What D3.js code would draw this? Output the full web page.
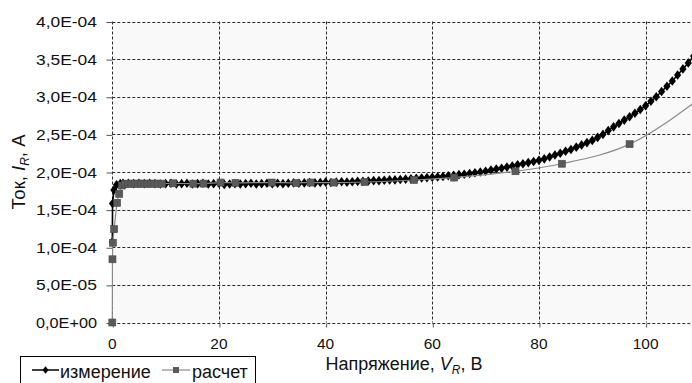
<!DOCTYPE html>
<html><head><meta charset="utf-8">
<script src="https://cdn.jsdelivr.net/npm/d3@7"></script>
<style>
body{margin:0;background:#fff;}
svg{display:block;font-family:"Liberation Sans",Arial,sans-serif;}
</style>
</head><body>
<svg id="c" width="692" height="383"></svg>
<script>
// ---- data (current in units of 1e-4 A) ----
const xTicks = [0, 20, 40, 60, 80, 100];
const yTicks = [0, 0.5, 1, 1.5, 2, 2.5, 3, 3.5, 4];
const yTickLabels = ["0,0E+00","5,0E-05","1,0E-04","1,5E-04","2,0E-04","2,5E-04","3,0E-04","3,5E-04","4,0E-04"];
const seriesNames = ["измерение", "расчет"];

const measV = [0, 0.05, 0.3, 0.8, 1.5,
  2,3,4,5,6,7,8,9,10,11,12,13,14,15,16,17,18,19,20,
  21,22,23,24,25,26,27,28,29,30,31,32,33,34,35,36,37,38,39,40,
  41,42,43,44,45,46,47,48,49,50,51,52,53,54,55,56,57,58,59,60,
  61,62,63,64,65,66,67,68,69,70,71,72,73,74,75,76,77,78,79,80,
  81,82,83,84,85,86,87,88,89,90,91,92,93,94,95,96,97,98,99,100,
  101,102,103,104,105,106,107,108,109];
const measI = [1.07, 1.58, 1.76, 1.83, 1.845,
  1.85,1.85,1.845,1.85,1.845,1.85,1.845,1.84,1.845,1.85,1.84,1.845,1.85,1.84,1.845,1.85,1.84,1.845,1.85,
  1.835,1.84,1.845,1.84,1.845,1.85,1.84,1.845,1.85,1.845,1.85,1.845,1.85,1.855,1.85,1.855,1.86,1.855,1.86,1.865,
  1.86,1.865,1.87,1.865,1.87,1.875,1.875,1.88,1.885,1.885,1.89,1.895,1.895,1.9,1.905,1.91,1.915,1.92,1.925,1.93,
  1.935,1.94,1.95,1.955,1.965,1.97,1.98,1.99,2.0,2.01,2.025,2.04,2.05,2.065,2.08,2.095,2.11,2.125,2.14,2.155,
  2.175,2.2,2.225,2.25,2.275,2.3,2.33,2.36,2.39,2.42,2.46,2.5,2.55,2.6,2.645,2.69,2.735,2.78,2.83,2.88,
  2.94,3.0,3.07,3.14,3.21,3.29,3.37,3.45,3.54];

const calcV = [0, 0.03, 0.1, 0.35, 0.9, 1.3, 1.8, 2.4, 3.0, 3.6, 4.2, 4.8, 5.4, 6.0, 6.6, 7.2, 7.9, 8.6, 9.3,
  11.4, 15.2, 17.1, 20.3, 23.1, 29.9, 34.5, 37.2, 41.5, 47.3, 56.6, 64.1, 75.6, 84.3, 97.0, 110];
const calcI = [0, 0.84, 1.06, 1.24, 1.59, 1.71, 1.82, 1.84, 1.845, 1.845, 1.845, 1.845, 1.845, 1.845, 1.845, 1.845, 1.845, 1.845, 1.845,
  1.85, 1.845, 1.846, 1.86, 1.855, 1.86, 1.855, 1.86, 1.86, 1.867, 1.894, 1.926, 2.01, 2.11, 2.37, 2.97];

// ---- layout ----
const svg = d3.select("#c");
const L = 112.3, R = 692, T = 21.5, B = 322.5;
const x = d3.scaleLinear().domain([0, 108.7]).range([L, R]);
const y = d3.scaleLinear().domain([0, 4]).range([B, T]);

svg.append("defs").append("clipPath").attr("id","clip")
  .append("rect").attr("x", L-6).attr("y", 0).attr("width", R-L+12).attr("height", B+6);

svg.append("rect").attr("x", L).attr("y", T).attr("width", R-L).attr("height", B-T).attr("fill", "#f9f9f9");

// grid
const grid = svg.append("g").attr("stroke", "#2a2a2a").attr("stroke-width", 1).attr("stroke-dasharray", "3,2");
grid.selectAll("line.h").data(yTicks).enter().append("line")
  .attr("x1", L).attr("x2", R).attr("y1", d => Math.round(y(d))+0.5).attr("y2", d => Math.round(y(d))+0.5);
grid.selectAll("line.v").data(xTicks).enter().append("line")
  .attr("y1", T).attr("y2", B).attr("x1", d => Math.round(x(d))+0.5).attr("x2", d => Math.round(x(d))+0.5);

// axes: tick marks via d3.axis, labels as explicit text
const yAxis = d3.axisLeft(y).tickValues(yTicks).tickSize(6).tickFormat("");
const gy = svg.append("g").attr("transform", `translate(${Math.round(L)+0.5},0.5)`).call(yAxis);
gy.select(".domain").remove();
gy.selectAll("line").attr("stroke", "#555");
svg.append("g").selectAll("text").data(yTicks).enter().append("text")
  .attr("x", 97).attr("y", d => y(d) + 5.5).attr("text-anchor", "end")
  .style("font-size", "15.5px").attr("fill", "#111")
  .attr("textLength", 61).attr("lengthAdjust", "spacingAndGlyphs")
  .text((d,i) => yTickLabels[i]);

const xAxis = d3.axisBottom(x).tickValues(xTicks).tickSize(4).tickFormat("");
const gx = svg.append("g").attr("transform", `translate(0.5,${Math.round(B)+0.5})`).call(xAxis);
gx.select(".domain").remove();
gx.selectAll("line").attr("stroke", "#555");
svg.append("g").selectAll("text").data(xTicks).enter().append("text")
  .attr("x", d => x(d)).attr("y", 348.5).attr("text-anchor", "middle")
  .style("font-size", "15.5px").attr("fill", "#111")
  .attr("textLength", d => String(d).length * 8.6).attr("lengthAdjust", "spacingAndGlyphs")
  .text(d => d);

// series
const plot = svg.append("g").attr("clip-path", "url(#clip)");
const meas = measV.map((v,i) => [v, measI[i]]);
const calc = calcV.map((v,i) => [v, calcI[i]]);

plot.append("path").datum(meas)
  .attr("d", d3.line().x(d => x(d[0])).y(d => y(d[1])))
  .attr("fill", "none").attr("stroke", "#000").attr("stroke-width", 1.6);
const dia = (cx, cy, w, h) => `M${cx},${cy-h}L${cx+w},${cy}L${cx},${cy+h}L${cx-w},${cy}Z`;
plot.selectAll("path.m").data(meas).enter().append("path")
  .attr("d", d => dia(x(d[0]), y(d[1]), 3.6, 4.8)).attr("fill", "#000");

plot.append("path").datum(calc)
  .attr("d", d3.line().curve(d3.curveMonotoneX).x(d => x(d[0])).y(d => y(d[1])))
  .attr("fill", "none").attr("stroke", "#8a8a8a").attr("stroke-width", 1.2);
plot.selectAll("rect.c").data(calc).enter().append("rect")
  .attr("x", d => x(d[0]) - 3.5).attr("y", d => y(d[1]) - 3.5).attr("width", 7).attr("height", 7)
  .attr("fill", "#5a5a5a").attr("stroke", "#4a4a4a").attr("stroke-width", 0.6);

// axis titles
const xt = svg.append("text").attr("x", 404).attr("y", 370).attr("text-anchor", "middle")
  .style("font-size", "18px").attr("fill", "#111");
xt.append("tspan").text("Напряжение, ");
xt.append("tspan").attr("font-style", "italic").text("V");
xt.append("tspan").attr("font-style", "italic").style("font-size", "12px").attr("dy", 4).text("R");
xt.append("tspan").attr("dy", -4).text(", В");

const yt = svg.append("text").attr("transform", "translate(25,172) rotate(-90)").attr("text-anchor", "middle")
  .style("font-size", "18.5px").attr("fill", "#111");
yt.append("tspan").text("Ток, ");
yt.append("tspan").attr("font-style", "italic").text("I");
yt.append("tspan").attr("font-style", "italic").style("font-size", "12px").attr("dy", 4).text("R");
yt.append("tspan").attr("dy", -4).text(", А");

// legend
const lg = svg.append("g");
lg.append("rect").attr("x", 20.5).attr("y", 356.5).attr("width", 235).attr("height", 40)
  .attr("fill", "#fff").attr("stroke", "#000").attr("stroke-width", 1);
const ly = 370;
lg.append("line").attr("x1", 32).attr("x2", 59).attr("y1", ly).attr("y2", ly).attr("stroke", "#000").attr("stroke-width", 1.5);
lg.append("path").attr("d", dia(45.5, ly, 3, 3.8)).attr("fill", "#000");
lg.append("text").attr("x", 60).attr("y", 378).style("font-size", "18px").attr("fill", "#111").text(seriesNames[0]);
lg.append("line").attr("x1", 162).attr("x2", 190).attr("y1", ly).attr("y2", ly).attr("stroke", "#8a8a8a").attr("stroke-width", 1.2);
lg.append("rect").attr("x", 173).attr("y", ly-3).attr("width", 6).attr("height", 6).attr("fill", "#5a5a5a");
lg.append("text").attr("x", 192).attr("y", 378).style("font-size", "18px").attr("fill", "#111").text(seriesNames[1]);
</script>
</body></html>
